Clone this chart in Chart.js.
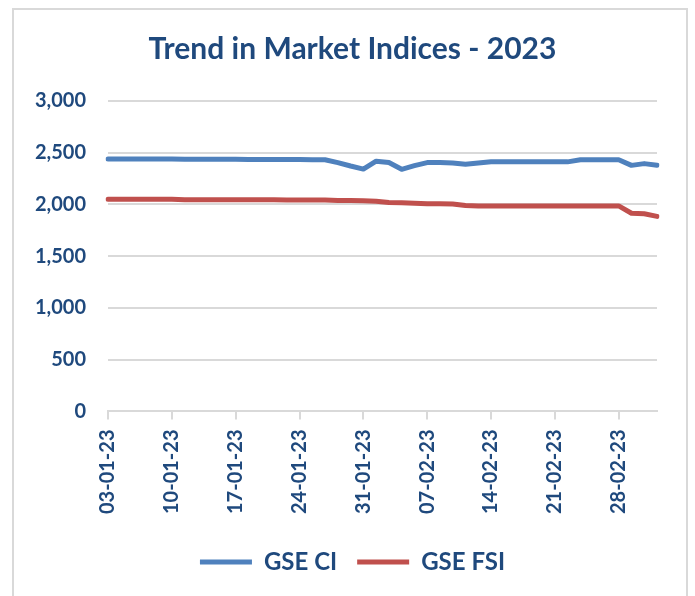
<!DOCTYPE html>
<html>
<head>
<meta charset="utf-8">
<script src="https://cdn.jsdelivr.net/npm/chart.js@4.4.0/dist/chart.umd.min.js"></script>
<style>
  body { margin: 0; background: #fff; }
  #frame { position: absolute; left: 12px; top: 8px; width: 672px; height: 600px; border: 2px solid #d9d9d9; }
  #wrap { position: absolute; left: 0; top: 0; width: 695px; height: 596px; }
</style>
</head>
<body>
<div id="frame"></div>
<div id="wrap"><canvas id="market_chart"></canvas></div>
<script>
// trading days, dd-mm-yy
var dates = ['03-01-23','04-01-23','05-01-23','06-01-23','09-01-23','10-01-23','11-01-23','12-01-23',
  '13-01-23','16-01-23','17-01-23','18-01-23','19-01-23','20-01-23','23-01-23','24-01-23','25-01-23',
  '26-01-23','27-01-23','30-01-23','31-01-23','01-02-23','02-02-23','03-02-23','06-02-23','07-02-23',
  '08-02-23','09-02-23','10-02-23','13-02-23','14-02-23','15-02-23','16-02-23','17-02-23','20-02-23',
  '21-02-23','22-02-23','23-02-23','24-02-23','27-02-23','28-02-23','01-03-23','02-03-23','03-03-23'];

var shownDates = ['03-01-23','10-01-23','17-01-23','24-01-23','31-01-23','07-02-23','14-02-23','21-02-23','28-02-23'];

var gseCI = [2440,2440,2440,2440,2439, 2439,2437,2436,2436,2436,
  2436,2435,2435,2434,2434, 2434,2433,2432,2405,2372,
  2342,2418,2405,2340,2375, 2405,2405,2400,2388,2400,
  2412,2412,2413,2413,2413, 2412,2412,2432,2432,2432,
  2432,2378,2395,2380];

var gseFSI = [2051,2051,2051,2051,2051,2051,
  2046,2046,2046,2046,2046,2046,2046,2046,
  2043,2043,2043,2043,
  2038,2038,2036,2032,2020,2017,2013,2008,2006,2004,1990,
  1986,1986,1986,1986,1986,1986,1986,1986,1986,1986,1986,1986,
  1915,1910,1885];

var yTicks = [0, 500, 1000, 1500, 2000, 2500, 3000];

const TEXT_COLOR = '#1F497D';
const GRID_COLOR = '#d9d9d9';

var chart = new Chart('market_chart', {
  type: 'line',
  data: {
    labels: dates,
    datasets: [{
      label: 'GSE CI',
      data: gseCI,
      borderColor: '#4F81BD',
      backgroundColor: '#4F81BD',
      borderWidth: 5,
      pointRadius: 0,
      borderCapStyle: 'round',
      borderJoinStyle: 'round',
      yAxisID: 'y'
    }, {
      label: 'GSE FSI',
      data: gseFSI,
      borderColor: '#C0504D',
      backgroundColor: '#C0504D',
      borderWidth: 5,
      pointRadius: 0,
      borderCapStyle: 'round',
      borderJoinStyle: 'round',
      yAxisID: 'y'
    }]
  },
  options: {
    responsive: true,
    maintainAspectRatio: false,
    animation: false,
    layout: { padding: { left: 10, top: 0, right: 0, bottom: 12 } },
    plugins: {
      title: {
        display: true,
        text: 'Trend in Market Indices - 2023',
        color: TEXT_COLOR,
        font: { family: 'Lato', size: 30, weight: 'bold' },
        padding: { top: 31, bottom: 34 }
      },
      legend: {
        position: 'bottom',
        labels: {
          color: TEXT_COLOR,
          font: { family: 'Lato', size: 24, weight: 'bold' },
          usePointStyle: true,
          pointStyle: 'line',
          pointStyleWidth: 52,
          padding: 20
        }
      },
      tooltip: { enabled: false }
    },
    scales: {
      x: {
        offset: false,
        afterFit: s => { s.height += 6; },
        grid: {
          drawOnChartArea: false,
          tickLength: 8,
          lineWidth: 2,
          color: ctx => shownDates.includes(dates[ctx.index]) ? GRID_COLOR : 'rgba(0,0,0,0)'
        },
        border: { color: GRID_COLOR, width: 2 },
        ticks: {
          autoSkip: false,
          minRotation: 90,
          maxRotation: 90,
          padding: 10,
          color: TEXT_COLOR,
          font: { family: 'Lato', size: 20, weight: 'bold' },
          callback: function(value, index) {
            let lbl = dates[index];
            return shownDates.includes(lbl) ? lbl : '';
          }
        }
      },
      y: {
        min: 0,
        max: 3000,
        afterFit: s => { s.width = 98; },
        afterBuildTicks: s => { s.ticks = yTicks.map(v => ({ value: v })); },
        grid: { color: GRID_COLOR, lineWidth: 2, drawTicks: false },
        border: { display: false },
        ticks: {
          padding: 22,
          color: TEXT_COLOR,
          font: { family: 'Lato', size: 20, weight: 'bold' },
          callback: v => v.toLocaleString('en-US')
        }
      },
      y2: {
        position: 'right',
        display: true,
        afterFit: s => { s.width = 38; },
        grid: { display: false, drawTicks: false },
        border: { display: false },
        ticks: { display: false }
      }
    }
  }
});
</script>
</body>
</html>
